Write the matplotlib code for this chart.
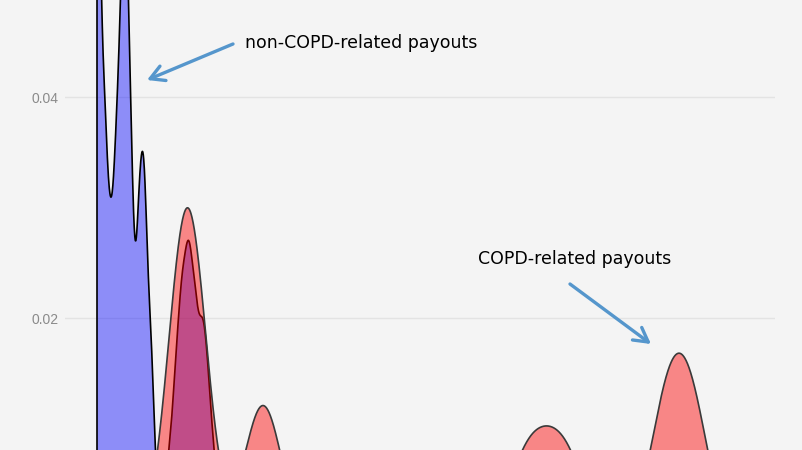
#!/usr/bin/env python3
"""
Density of claim payouts, COPD-related vs non-COPD-related.

Each series is a list of payout amounts (in $k) with the number of claims
paid at that amount. The curves are gaussian KDEs of those samples, drawn
like a distplot (curve spans min..max of the data, filled to zero).
The view is zoomed in, so part of each distribution lies off screen.
"""

import numpy as np
import matplotlib

matplotlib.use("Agg")
import matplotlib.pyplot as plt

# non-COPD-related payouts ($k) and claim counts
non_copd_payout = [
    6.4, 6.8, 7.2, 7.6, 8.0, 8.4, 8.8, 9.2, 9.6, 10.0, 10.4, 10.8, 11.2, 11.6, 12.0,
    12.4, 12.8, 13.2, 13.6, 14.0, 14.4, 14.8, 15.2, 15.6, 16.0, 16.4, 16.8, 17.2,
    17.6, 18.0, 18.4, 18.8, 19.2, 20.4, 20.8, 21.2, 21.6, 22.0, 22.4, 22.8, 23.2,
    23.6, 24.0, 24.4, 24.8, 25.2, 25.6, 26.0, 26.4, 26.8, 27.2, 27.6, 28.0, 28.4,
    28.8, 29.2, 29.6, 30.0, 30.4, 30.8, 31.2, 32.0, 170.0, 210.0, 260.0,
]
non_copd_claims = [
    290, 66, 25, 95, 80, 26, 64, 45, 34, 67, 64, 62, 79, 96, 115,
    96, 58, 72, 57, 5, 42, 77, 36, 66, 80, 21, 25, 51,
    20, 4, 9, 5, 1, 15, 18, 8, 20, 30, 26, 32, 41,
    41, 38, 44, 51, 40, 36, 41, 34, 26, 33, 38, 29, 27,
    27, 14, 14, 16, 4, 4, 3, 4, 600, 450, 263,
]
non_copd_bandwidth = 0.6

# COPD-related payouts ($k) and claim counts
copd_payout = [3.0, 24.5, 39.6, 91.5, 96.3, 101.1, 120.3, 125.3, 165.0, 190.0, 230.0]
copd_claims = [1, 278, 112, 51, 51, 51, 98, 98, 100, 90, 70]
copd_bandwidth = 3.7

y_ticks = [0.02, 0.04]
x_range = (0.0, 142.0)
y_range = (0.00806, 0.04878)

BG = "#f4f4f4"
ARROW = "#5596cc"


def kde_curve(values, counts, bw, n=6000):
    values = np.asarray(values, float)
    weights = np.asarray(counts, float)
    weights = weights / weights.sum()
    xs = np.linspace(values.min(), values.max(), n)
    z = (xs[:, None] - values[None, :]) / bw
    dens = (np.exp(-0.5 * z ** 2) / (bw * np.sqrt(2 * np.pi))) @ weights
    return xs, dens


def draw_density(ax, xs, ys, fill, edge, z):
    ax.fill_between(xs, 0, ys, color=fill, linewidth=0, zorder=z)
    # include the vertical edge at the first point, like a filled trace
    ax.plot(np.r_[xs[0], xs], np.r_[0, ys], color=edge, linewidth=1.2, zorder=z + 0.5)


def main():
    fig = plt.figure(figsize=(8.02, 4.5), dpi=100)
    fig.patch.set_facecolor(BG)
    ax = fig.add_axes([65 / 802, 0, 710 / 802, 1])
    ax.set_facecolor(BG)

    bx, by = kde_curve(non_copd_payout, non_copd_claims, non_copd_bandwidth)
    rx, ry = kde_curve(copd_payout, copd_claims, copd_bandwidth)
    draw_density(ax, bx, by, (0, 0, 1, 0.42), "black", 2)
    draw_density(ax, rx, ry, (1, 0, 0, 0.45), "#3a3a3a", 3)

    ax.set_xlim(*x_range)
    ax.set_ylim(*y_range)
    ax.set_xticks([])
    ax.set_yticks(y_ticks)
    ax.set_yticklabels([f"{t:.2f}" for t in y_ticks], family="Liberation Sans",
                       fontsize=10, color="#8a8a8a")
    ax.tick_params(axis="y", length=0, pad=4.5)
    ax.grid(axis="y", color="#e3e3e3", linewidth=1)
    ax.set_axisbelow(True)
    for s in ax.spines.values():
        s.set_visible(False)

    arrow = dict(arrowstyle="->,head_length=0.5,head_width=0.28", color=ARROW,
                 linewidth=2.4, mutation_scale=20, shrinkA=0, shrinkB=0)
    ax.annotate("", xy=(16.4, 0.04154), xytext=(33.6, 0.04480), arrowprops=arrow, zorder=5)
    ax.annotate("", xy=(117.2, 0.01765), xytext=(101.0, 0.02308), arrowprops=arrow, zorder=5)
    ax.text(36.0, 0.04489, "non-COPD-related payouts", fontsize=12.5, color="black",
            ha="left", va="center", family="DejaVu Sans", zorder=6)
    ax.text(82.6, 0.02534, "COPD-related payouts", fontsize=12.5, color="black",
            ha="left", va="center", family="DejaVu Sans", zorder=6)

    fig.savefig("out.png", dpi=100, facecolor=BG)


if __name__ == "__main__":
    main()
